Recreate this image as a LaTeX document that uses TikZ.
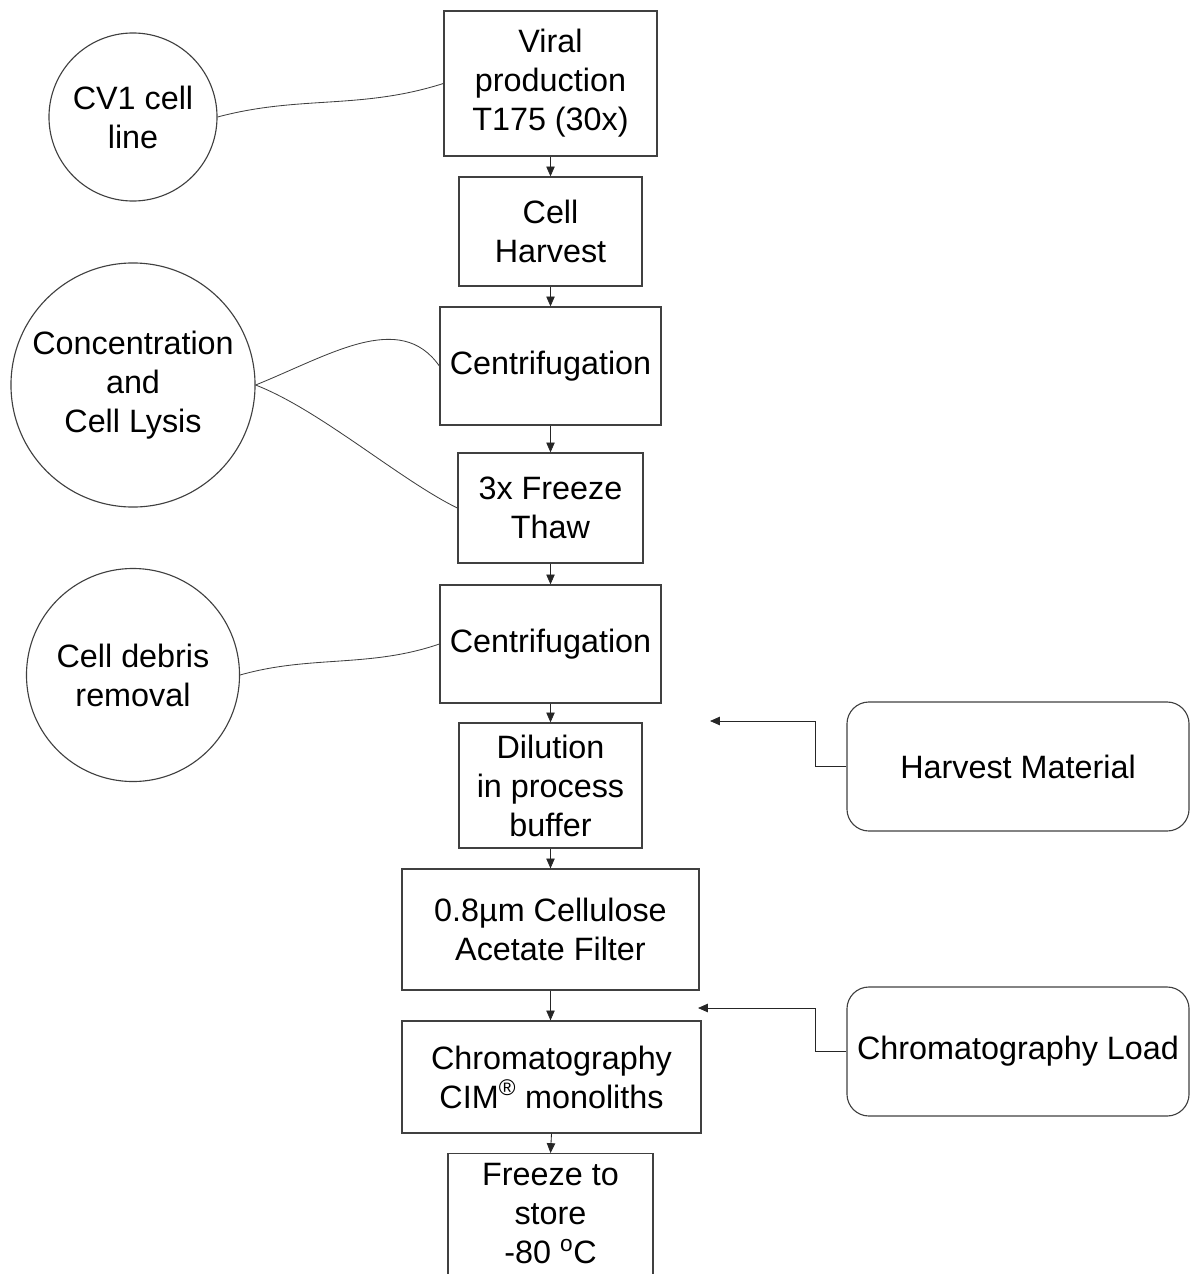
\documentclass[tikz,border=0pt]{standalone}
\usepackage{fontspec}
\setmainfont{Liberation Sans}
\usetikzlibrary{arrows.meta}

\begin{document}
\begin{tikzpicture}[x=0.025cm, y=-0.025cm]
    % Estilo para las cajas del proceso
    \tikzstyle{step_box} = [rectangle, draw=black!75, line width=0.9pt, align=center, inner sep=0pt, font=\fontsize{23}{27.7}\selectfont]

    % Estilo para los circulos de las etapas
    \tikzstyle{stage_circle} = [circle, draw=black!75, line width=0.8pt, align=center, inner sep=0pt, font=\fontsize{23}{27.7}\selectfont]

    % Estilo para las cajas de material
    \tikzstyle{material_box} = [rectangle, rounded corners=0.55cm, draw=black!75, line width=0.8pt, align=center, minimum width=8.55cm, minimum height=3.225cm, font=\fontsize{23}{27.7}\selectfont]

    % Estilo para las flechas y las curvas
    \tikzstyle{flow_arrow} = [-{Triangle[length=7pt, width=6pt]}, line width=0.6pt, draw=black!85]
    \tikzstyle{link_curve} = [-, line width=0.6pt, draw=black!75]

    \useasboundingbox (0,0) rectangle (1200,1274);

    % Cajas del proceso
    \node[step_box, minimum width=5.325cm, minimum height=3.625cm] (viral) at (550.5, 83.5) {Viral\\production\\T175 (30x)};
    \node[step_box, minimum width=4.575cm, minimum height=2.725cm] (harvest) at (550.5, 231.5) {Cell\\Harvest};
    \node[step_box, minimum width=5.525cm, minimum height=2.95cm] (centA) at (550.5, 366) {Centrifugation};
    \node[step_box, minimum width=4.625cm, minimum height=2.75cm] (thaw) at (550.5, 508) {3x Freeze\\Thaw};
    \node[step_box, minimum width=5.525cm, minimum height=2.95cm] (centB) at (550.5, 644) {Centrifugation};
    \node[step_box, minimum width=4.575cm, minimum height=3.125cm] (dilution) at (550.5, 785.5) {Dilution\\in process\\buffer};
    \node[step_box, minimum width=7.425cm, minimum height=3.025cm] (filter) at (550.5, 929.5) {0.8µm Cellulose\\Acetate Filter};
    \node[step_box, minimum width=7.475cm, minimum height=2.8cm] (chrom) at (551.5, 1077) {Chromatography\\CIM\textsuperscript{®} monoliths};
    \node[step_box, minimum width=5.125cm, minimum height=3.45cm, text depth=0.45cm, anchor=north] (store) at (550.5, 1153) {Freeze to\\store\\-80 \textsuperscript{o}C};

    % Circulos de las etapas
    \node[stage_circle, minimum size=4.2cm] (cvone) at (133, 117) {CV1 cell\\line};
    \node[stage_circle, minimum size=6.1cm] (lysis) at (133, 385) {Concentration\\and\\Cell Lysis};
    \node[stage_circle, minimum size=5.325cm] (debris) at (133, 675) {Cell debris\\removal};

    % Cajas de material
    \node[material_box] (harvmat) at (1018, 766.5) {Harvest Material};
    \node[material_box] (chromload) at (1018, 1051.5) {Chromatography Load};

    % Puntos de llegada de las flechas laterales
    \coordinate (dilin) at (710, 721);
    \coordinate (chromin) at (698, 1008);

    % Flechas del proceso
    \draw[flow_arrow] (viral.south) -- (harvest.north);
    \draw[flow_arrow] (harvest.south) -- (centA.north);
    \draw[flow_arrow] (centA.south) -- (thaw.north);
    \draw[flow_arrow] (thaw.south) -- (centB.north);
    \draw[flow_arrow] (centB.south) -- (dilution.north);
    \draw[flow_arrow] (dilution.south) -- (filter.north);
    \draw[flow_arrow] (filter.south) -- (chrom.north -| filter.south);
    \draw[flow_arrow] (chrom.south) -- (store.north);

    % Flechas laterales
    \draw[flow_arrow] (harvmat.west) -- ++(-31,0) |- (dilin);
    \draw[flow_arrow] (chromload.west) -- ++(-31,0) |- (chromin);

    % Curvas desde los circulos
    \draw[link_curve] (cvone.east) .. controls (300,95) and (360,110) .. (viral.west);
    \draw[link_curve] (lysis.east) .. controls (330,355) and (400,310) .. (centA.west);
    \draw[link_curve] (lysis.east) .. controls (320,410) and (400,480) .. (thaw.west);
    \draw[link_curve] (debris.east) .. controls (310,655) and (370,668) .. (centB.west);

\end{tikzpicture}
\end{document}
